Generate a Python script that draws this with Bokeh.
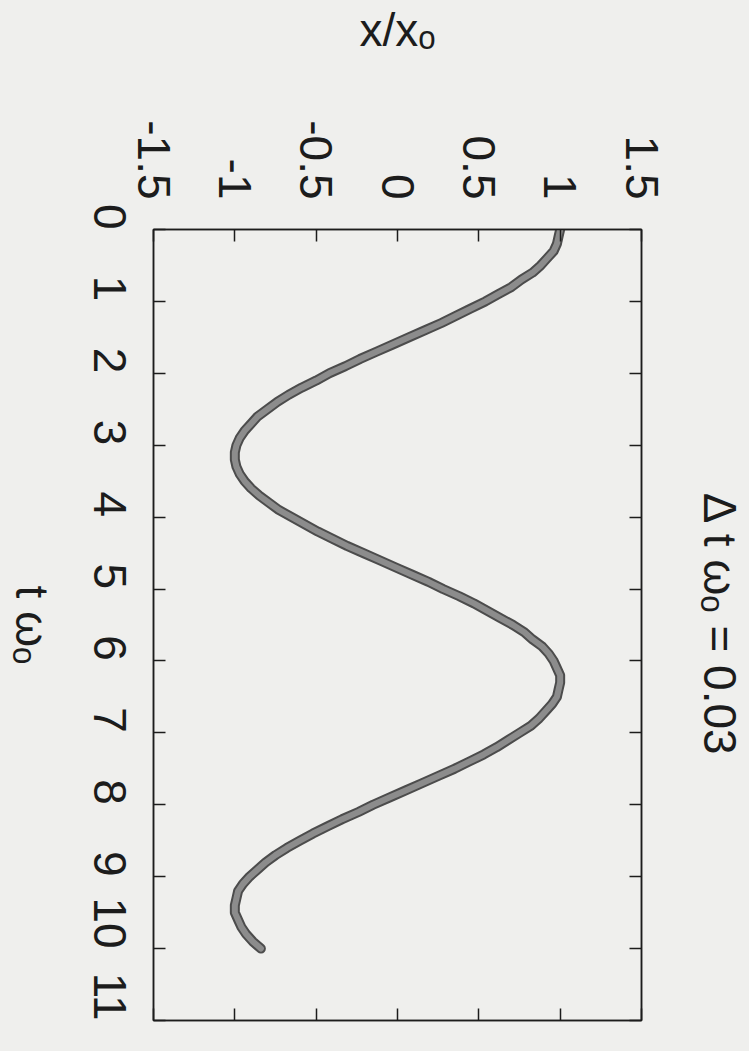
import math
from bokeh.plotting import figure
from bokeh.layouts import row
from bokeh.models import LinearAxis, FixedTicker, Range1d
from bokeh.core.properties import value
from bokeh.embed import file_html
from bokeh.resources import INLINE

# ---- data ----
t_values = [0.0, 0.1, 0.2, 0.3, 0.4, 0.5, 0.6, 0.7, 0.8, 0.9,
            1.0, 1.1, 1.2, 1.3, 1.4, 1.5, 1.6, 1.7, 1.8, 1.9,
            2.0, 2.1, 2.2, 2.3, 2.4, 2.5, 2.6, 2.7, 2.8, 2.9,
            3.0, 3.1, 3.2, 3.3, 3.4, 3.5, 3.6, 3.7, 3.8, 3.9,
            4.0, 4.1, 4.2, 4.3, 4.4, 4.5, 4.6, 4.7, 4.8, 4.9,
            5.0, 5.1, 5.2, 5.3, 5.4, 5.5, 5.6, 5.7, 5.8, 5.9,
            6.0, 6.1, 6.2, 6.3, 6.4, 6.5, 6.6, 6.7, 6.8, 6.9,
            7.0, 7.1, 7.2, 7.3, 7.4, 7.5, 7.6, 7.7, 7.8, 7.9,
            8.0, 8.1, 8.2, 8.3, 8.4, 8.5, 8.6, 8.7, 8.8, 8.9,
            9.0, 9.1, 9.2, 9.3, 9.4, 9.5, 9.6, 9.7, 9.8, 9.9,
            10.0]
x_values = [1.00, 0.99, 0.98, 0.96, 0.92, 0.88, 0.83, 0.76, 0.70, 0.62,
            0.54, 0.45, 0.36, 0.27, 0.17, 0.07, -0.03, -0.13, -0.23, -0.32,
            -0.42, -0.50, -0.59, -0.67, -0.74, -0.80, -0.86, -0.90, -0.94, -0.97,
            -0.99, -1.00, -1.00, -0.99, -0.97, -0.94, -0.90, -0.85, -0.79, -0.73,
            -0.65, -0.57, -0.49, -0.40, -0.31, -0.21, -0.11, -0.01, 0.09, 0.19,
            0.28, 0.38, 0.47, 0.55, 0.63, 0.71, 0.78, 0.83, 0.89, 0.93,
            0.96, 0.98, 1.00, 1.00, 0.99, 0.98, 0.95, 0.91, 0.87, 0.82,
            0.75, 0.68, 0.61, 0.53, 0.44, 0.35, 0.25, 0.15, 0.05, -0.05,
            -0.15, -0.24, -0.34, -0.43, -0.52, -0.60, -0.68, -0.75, -0.81, -0.86,
            -0.91, -0.95, -0.98, -0.99, -1.00, -1.00, -0.98, -0.96, -0.93, -0.89,
            -0.84]
t_ticks = [0, 1, 2, 3, 4, 5, 6, 7, 8, 9, 10, 11]
x_ticks = [-1.5, -1.0, -0.5, 0.0, 0.5, 1.0, 1.5]
x_tick_labels = ["-1.5", "-1", "-0.5", "0", "0.5", "1", "1.5"]
title_text = "\u0394 t \u03c9\u2092 = 0.03"
x_label = "x/x\u2092"
t_label = "t \u03c9\u2092"

FONT = "Liberation Sans"
BG = "#efefed"
INK = "#1c1c1c"
FS = "46px"
H = 1051
TOP = 229
BOTTOM = 31
T_RANGE = (11, 0)


def side_text_fig(width, text, xfrac):
    f = figure(width=width, height=H, x_range=Range1d(0, 1),
               y_range=Range1d(*T_RANGE), x_axis_type=None, y_axis_type=None,
               output_backend="svg", toolbar_location=None,
               min_border_left=0, min_border_right=0,
               min_border_top=TOP, min_border_bottom=BOTTOM,
               background_fill_color=BG, border_fill_color=BG,
               outline_line_color=None)
    f.grid.visible = False
    # text reads top-to-bottom, as on the rotated page
    f.text(x=[xfrac], y=[(T_RANGE[0] + T_RANGE[1]) / 2], text=[text],
           angle=-math.pi / 2, text_align="center", text_baseline="middle",
           text_font=value(FONT), text_font_size=value(FS), text_color=INK)
    return f


left_fig = side_text_fig(57, t_label, 0.544)

p = figure(width=612, height=H,
           min_border_left=96, min_border_top=TOP,
           min_border_right=28, min_border_bottom=BOTTOM,
           x_range=Range1d(-1.5, 1.5), y_range=Range1d(*T_RANGE),
           x_axis_location="above", y_axis_location="left",
           output_backend="svg", toolbar_location=None,
           background_fill_color=BG, border_fill_color=BG,
           outline_line_color=INK, outline_line_width=1.5)
p.grid.visible = False

right_fig = side_text_fig(80, title_text, 0.625)

xa = p.xaxis[0]
ya = p.yaxis[0]
xa.ticker = FixedTicker(ticks=x_ticks)
xa.major_label_overrides = {k: v for k, v in zip(x_ticks, x_tick_labels)}
ya.ticker = FixedTicker(ticks=t_ticks)
xa.axis_label = x_label
ya.axis_label = None

for ax in (xa, ya):
    ax.major_tick_in = 12
    ax.major_tick_out = 0
    ax.minor_tick_in = 0
    ax.minor_tick_out = 0
    ax.axis_line_color = INK
    ax.axis_line_width = 1.5
    ax.major_tick_line_color = INK
    ax.major_tick_line_width = 1.5
    ax.major_label_text_font = FONT
    ax.major_label_text_font_size = FS
    ax.major_label_text_color = INK
    ax.major_label_orientation = -math.pi / 2
    ax.axis_label_text_font = FONT
    ax.axis_label_text_font_size = FS
    ax.axis_label_text_font_style = "normal"
    ax.axis_label_text_color = INK

xa.major_label_standoff = 30
xa.axis_label_standoff = 61
ya.major_label_standoff = 44

for side, tk in (("right", t_ticks), ("below", x_ticks)):
    ax = LinearAxis(ticker=FixedTicker(ticks=tk))
    ax.major_label_overrides = {k: "" for k in tk}
    ax.major_label_standoff = 0
    ax.major_tick_in = 12
    ax.major_tick_out = 0
    ax.minor_tick_in = 0
    ax.minor_tick_out = 0
    ax.axis_line_color = INK
    ax.axis_line_width = 1.5
    ax.major_tick_line_color = INK
    ax.major_tick_line_width = 1.5
    p.add_layout(ax, side)

p.line(x_values, t_values, line_width=10, line_color="#4c4c4c",
       line_cap="round", line_join="round")
p.line(x_values, t_values, line_width=6, line_color="#8c8c8c",
       line_cap="round", line_join="round")

layout = row(left_fig, p, right_fig, styles={"background-color": BG})
open("out.html", "w").write(file_html(layout, INLINE))
